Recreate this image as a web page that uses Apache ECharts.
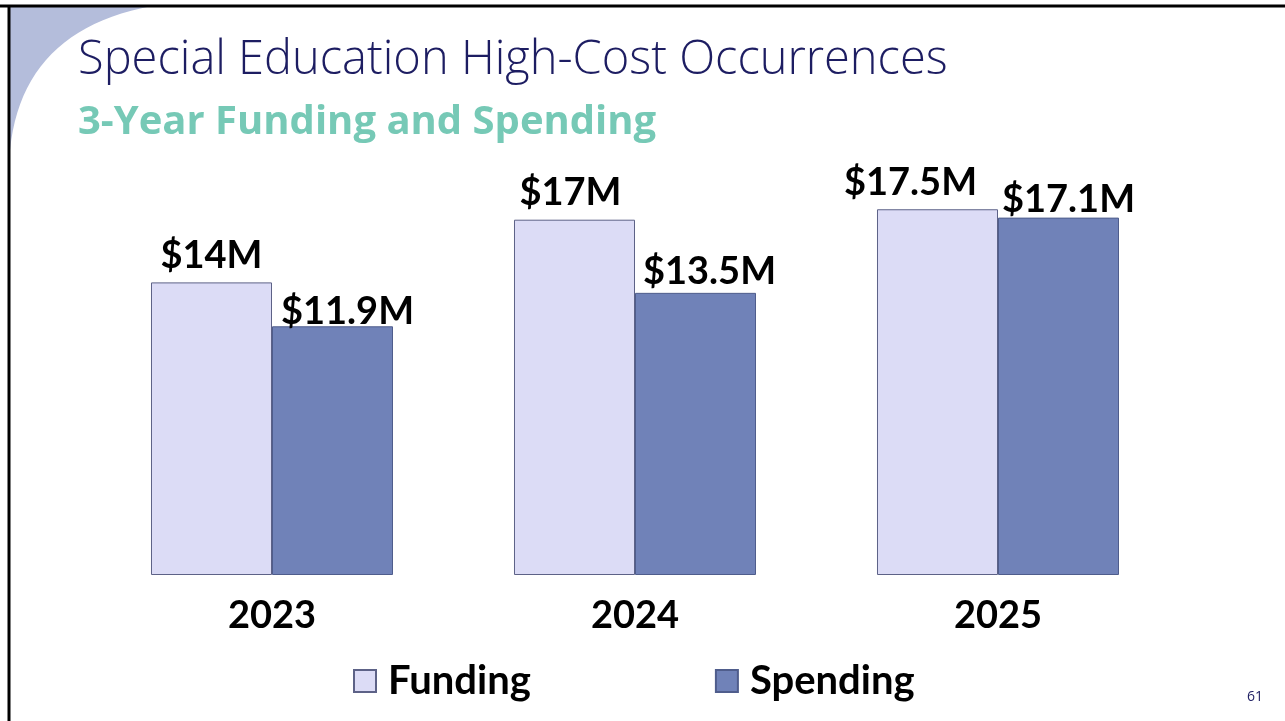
<!DOCTYPE html>
<html>
<head>
<meta charset="utf-8">
<title>Special Education High-Cost Occurrences</title>
<script src="https://cdn.jsdelivr.net/npm/echarts@6/dist/echarts.min.js"></script>
<style>
  html, body { margin: 0; padding: 0; background: #fff; }
  #chart { width: 1285px; height: 721px; }
</style>
</head>
<body>
<div id="chart"></div>
<script>
// values in millions of dollars
const years = ["2023", "2024", "2025"];
const funding = [14, 17, 17.5];
const spending = [11.9, 13.5, 17.1];
const fundingLabels = ["$14M", "$17M", "$17.5M"];
const spendingLabels = ["$11.9M", "$13.5M", "$17.1M"];

// label nudges as placed on the slide [dx, dy]
const fundingNudge = [[0, 0], [-4, 0], [-27, 0]];
const spendingNudge = [[15, 12], [14, 6], [10, 9]];

const myChart = echarts.init(document.getElementById("chart"));

const labelFont = {
  fontFamily: "Lato, 'Open Sans', sans-serif",
  fontWeight: "bold",
  fontSize: 38,
  color: "#000"
};

// lavender corner decoration: quadratic curve from top edge to left edge
let corner = [[10, 6]];
for (let i = 0; i <= 24; i++) {
  let t = i / 24;
  let x = (1 - t) * (1 - t) * 152 + 2 * t * (1 - t) * 22 + t * t * 10;
  let y = (1 - t) * (1 - t) * 6 + 2 * t * (1 - t) * 30 + t * t * 150;
  corner.push([x, y]);
}

function withNudge(values, nudge) {
  return values.map((v, i) => ({ value: v, label: { offset: nudge[i] } }));
}

let option = {
  backgroundColor: "#fff",
  animation: false,
  title: [
    {
      text: "Special Education High-Cost Occurrences",
      left: 73,
      top: 32,
      textStyle: {
        fontFamily: "'Open Sans', sans-serif",
        fontWeight: 300,
        fontSize: 47,
        color: "#1d1d62"
      }
    },
    {
      text: "3-Year Funding and Spending",
      left: 73,
      top: 98,
      textStyle: {
        fontFamily: "'Open Sans', sans-serif",
        fontWeight: "bold",
        fontSize: 40,
        color: "#76c9b6"
      }
    }
  ],
  legend: {
    left: 348,
    top: 656,
    itemWidth: 22,
    itemHeight: 22,
    itemGap: 184,
    icon: "rect",
    textStyle: Object.assign({}, labelFont, { fontSize: 40, padding: [0, 0, 0, 7] }),
    data: ["Funding", "Spending"]
  },
  grid: {
    left: 90.5,
    width: 1089,
    top: 157,
    height: 418
  },
  xAxis: {
    type: "category",
    data: years,
    axisLine: { show: false },
    axisTick: { show: false },
    axisLabel: Object.assign({ margin: 22 }, labelFont)
  },
  yAxis: {
    type: "value",
    min: 0,
    max: 20,
    show: false,
    splitLine: { show: false }
  },
  series: [
    {
      name: "Funding",
      type: "bar",
      barGap: "0%",
      barCategoryGap: "33.33%",
      data: withNudge(funding, fundingNudge),
      itemStyle: {
        color: "#dcdcf6",
        borderColor: "#5d6287",
        borderWidth: 1
      },
      label: Object.assign({
        show: true,
        position: "top",
        distance: 8,
        formatter: p => fundingLabels[p.dataIndex]
      }, labelFont)
    },
    {
      name: "Spending",
      type: "bar",
      data: withNudge(spending, spendingNudge),
      itemStyle: {
        color: "#7082b8",
        borderColor: "#4f5d8c",
        borderWidth: 1
      },
      label: Object.assign({
        show: true,
        position: "top",
        distance: 8,
        formatter: p => spendingLabels[p.dataIndex]
      }, labelFont)
    }
  ],
  graphic: [
    {
      type: "polygon",
      shape: { points: corner },
      style: { fill: "#b4bddb" },
      silent: true
    },
    {
      type: "line",
      shape: { x1: 0, y1: 6, x2: 1285, y2: 6 },
      style: { stroke: "#000", lineWidth: 3 }
    },
    {
      type: "line",
      shape: { x1: 9, y1: 5, x2: 9, y2: 721 },
      style: { stroke: "#000", lineWidth: 3 }
    },
    {
      type: "text",
      left: 1247,
      top: 690,
      style: {
        text: "61",
        fontFamily: "'Open Sans', sans-serif",
        fontSize: 14,
        fill: "#1d1d62"
      }
    }
  ]
};

myChart.setOption(option);
</script>
</body>
</html>
